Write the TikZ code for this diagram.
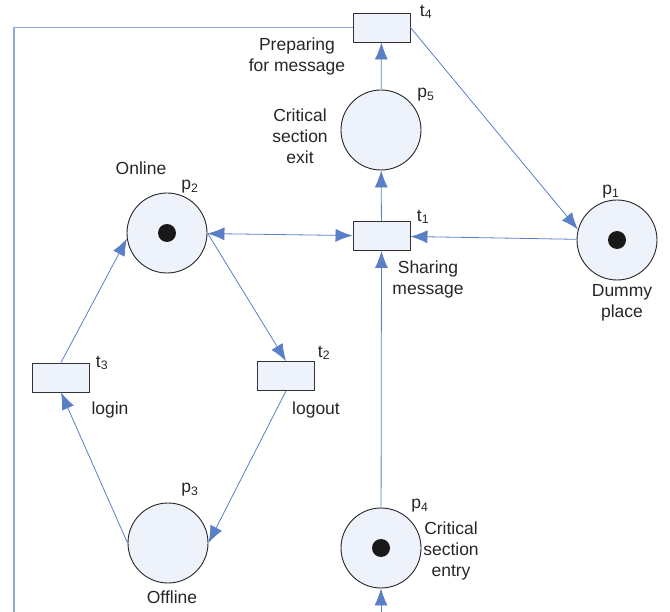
\documentclass[tikz,border=0pt]{standalone}
\usepackage{fontspec}
\setmainfont{Liberation Sans}
\usetikzlibrary{arrows.meta}
\definecolor{arcblue}{HTML}{5B7FC7}
\definecolor{loopblue}{HTML}{8DA8DC}
\definecolor{placefill}{HTML}{EEF2FB}
\begin{document}
\begin{tikzpicture}[x=1pt,y=-1pt,
        >={Latex[length=17pt,width=13pt]},
        place/.style={draw=black!85,line width=0.9pt,fill=placefill,circle,
            minimum size=80pt,inner sep=0pt},
        trans/.style={draw=black!80,line width=0.9pt,fill=placefill,
            minimum width=57pt,minimum height=29pt,inner sep=0pt},
        tokendot/.style={fill=black!90,circle,minimum size=18pt,inner sep=0pt},
        arc/.style={arcblue,line width=0.8pt},
        lbl/.style={font=\fontsize{17.5}{21}\selectfont,inner sep=0pt,
            align=center,text=black!85}]
    \useasboundingbox (0,0) rectangle (670,612);
    \clip (0,0) rectangle (670,612);
    % places
    \node[place] (p1) at (617,240) {};
    \node[place] (p2) at (167,233) {};
    \node[place] (p3) at (168,543) {};
    \node[place] (p4) at (381,548) {};
    \node[place] (p5) at (381,130) {};
    \node[tokendot] at (p1) {};
    \node[tokendot] at (p2) {};
    \node[tokendot] at (p4) {};
    % transitions
    \node[trans] (t1) at (381.5,236) {};
    \node[trans] (t2) at (286,376) {};
    \node[trans] (t3) at (61,377.5) {};
    \node[trans] (t4) at (381.5,27.5) {};
    % names
    \node[lbl] (p1name) at (611,192) {p\textsubscript{1}};
    \node[lbl] (p2name) at (190,187) {p\textsubscript{2}};
    \node[lbl] (p3name) at (190,490) {p\textsubscript{3}};
    \node[lbl] (p4name) at (420,506) {p\textsubscript{4}};
    \node[lbl] (p5name) at (426,95) {p\textsubscript{5}};
    \node[lbl] (t1name) at (423,217) {t\textsubscript{1}};
    \node[lbl] (t2name) at (324,353) {t\textsubscript{2}};
    \node[lbl] (t3name) at (102,363) {t\textsubscript{3}};
    \node[lbl] (t4name) at (426,12) {t\textsubscript{4}};
    % descriptions
    \node[lbl] (prep) at (297,56) {Preparing\\for message};
    \node[lbl] (exit) at (300,136) {Critical\\section\\exit};
    \node[lbl] (online) at (141,168) {Online};
    \node[lbl] (share) at (428,279) {Sharing\\message};
    \node[lbl] (dummy) at (622,303) {Dummy\\place};
    \node[lbl] (login) at (110,410) {login};
    \node[lbl] (logout) at (316,410) {logout};
    \node[lbl] (entry) at (451,551) {Critical\\section\\entry};
    \node[lbl] (offline) at (172,597) {Offline};
    % arcs
    \draw[arc,->] (p5) -- (t4);
    \draw[arc,->] (t1) -- (p5);
    \draw[arc,->] (p4) -- (t1);
    \draw[arc,->] (p1) -- (t1);
    \draw[arc,<->] (p2) -- (t1);
    \draw[arc,->] (t4.east) -- (p1.165);
    \draw[arc,->] (p2.east) -- (t2.north);
    \draw[arc,->] (t2.south) -- (p3.east);
    \draw[arc,->] (p3.west) -- (t3.south);
    \draw[arc,->] (t3.north) -- (p2.188);
    % loop back to the entry place
    \coordinate (loopTL) at (14,27.5);
    \coordinate (loopBL) at (14,614);
    \coordinate (loopBR) at (381,614);
    \draw[loopblue,line width=1.6pt] (t4.west) -- (loopTL) -- (loopBL) -- (loopBR);
    \draw[arc,->] (loopBR) -- (p4.south);
\end{tikzpicture}
\end{document}
